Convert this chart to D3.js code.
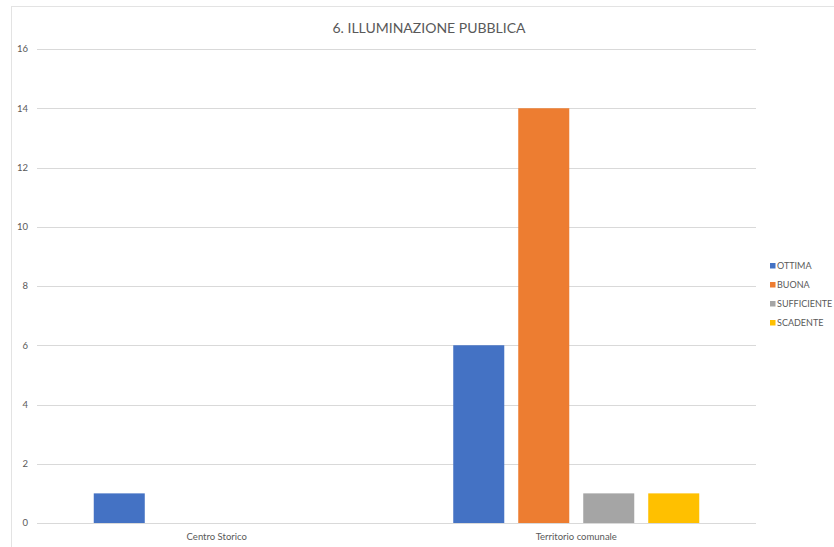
<!DOCTYPE html>
<html><head><meta charset="utf-8">
<script src="https://cdn.jsdelivr.net/npm/d3@7"></script>
<style>body{margin:0;background:#fff}svg{display:block}</style>
</head><body>
<svg id="c" width="834" height="547"></svg>
<script>
const title = "6. ILLUMINAZIONE PUBBLICA";
const categories = ["Centro Storico", "Territorio comunale"];
const seriesNames = ["OTTIMA", "BUONA", "SUFFICIENTE", "SCADENTE"];
const seriesColors = ["#4472C4", "#ED7D31", "#A5A5A5", "#FFC000"];
const OTTIMA = [1, 6];
const BUONA = [0, 14];
const SUFFICIENTE = [0, 1];
const SCADENTE = [0, 1];
const yTicks = [0, 2, 4, 6, 8, 10, 12, 14, 16];

const seriesValues = [OTTIMA, BUONA, SUFFICIENTE, SCADENTE];
const font = "Lato, 'Open Sans', sans-serif";
const svg = d3.select("#c");
const L = 37, R = 756, T = 49, B = 523;

svg.append("rect").attr("x", 11.5).attr("y", 6.5).attr("width", 840).attr("height", 560)
  .attr("fill", "#fff").attr("stroke", "#e3e3e3");

const y = d3.scaleLinear().domain([0, 16]).range([B, T]);
const x0 = d3.scaleBand().domain(categories).range([L, R]).padding(0);
const groupW = 246;
const x1 = d3.scaleBand().domain(seriesNames)
  .range([(x0.bandwidth() - groupW) / 2, (x0.bandwidth() + groupW) / 2])
  .paddingInner(0.215).paddingOuter(0);

// gridlines
svg.append("g").selectAll("line").data(yTicks).join("line")
  .attr("x1", L).attr("x2", R)
  .attr("y1", d => Math.round(y(d)) + 0.5).attr("y2", d => Math.round(y(d)) + 0.5)
  .attr("stroke", "#d9d9d9").attr("stroke-width", 1);

// y tick labels
svg.append("g").selectAll("text").data(yTicks).join("text")
  .attr("x", 28).attr("y", d => y(d)).attr("dy", "0.35em")
  .attr("text-anchor", "end").attr("font-family", font).attr("font-size", 9.5)
  .attr("fill", "#595959").text(d => d);

// bars
const g = svg.append("g").selectAll("g").data(categories).join("g")
  .attr("transform", c => `translate(${x0(c)},0)`);
g.selectAll("rect").data((c, ci) => seriesNames.map((s, si) => ({s, si, v: seriesValues[si][ci]})))
  .join("rect")
  .attr("x", d => x1(d.s)).attr("width", x1.bandwidth())
  .attr("y", d => y(d.v)).attr("height", d => B - y(d.v))
  .attr("fill", d => seriesColors[d.si]);

// x labels
svg.append("g").selectAll("text").data(categories).join("text")
  .attr("x", c => x0(c) + x0.bandwidth() / 2).attr("y", 540)
  .attr("text-anchor", "middle").attr("font-family", font).attr("font-size", 9.5)
  .attr("fill", "#595959").text(c => c);

// title
svg.append("text").attr("x", 429).attr("y", 33).attr("text-anchor", "middle")
  .attr("font-family", font).attr("font-size", 14).attr("fill", "#595959").text(title);

// legend
const lg = svg.append("g").selectAll("g").data(seriesNames).join("g")
  .attr("transform", (d, i) => `translate(770,${266 + i * 19})`);
lg.append("rect").attr("x", 0).attr("y", -3).attr("width", 5.5).attr("height", 5.5)
  .attr("fill", (d, i) => seriesColors[i]);
lg.append("text").attr("x", 7).attr("y", 0).attr("dy", "0.35em")
  .attr("font-family", font).attr("font-size", 9).attr("fill", "#595959").text(d => d);
</script>
</body></html>
